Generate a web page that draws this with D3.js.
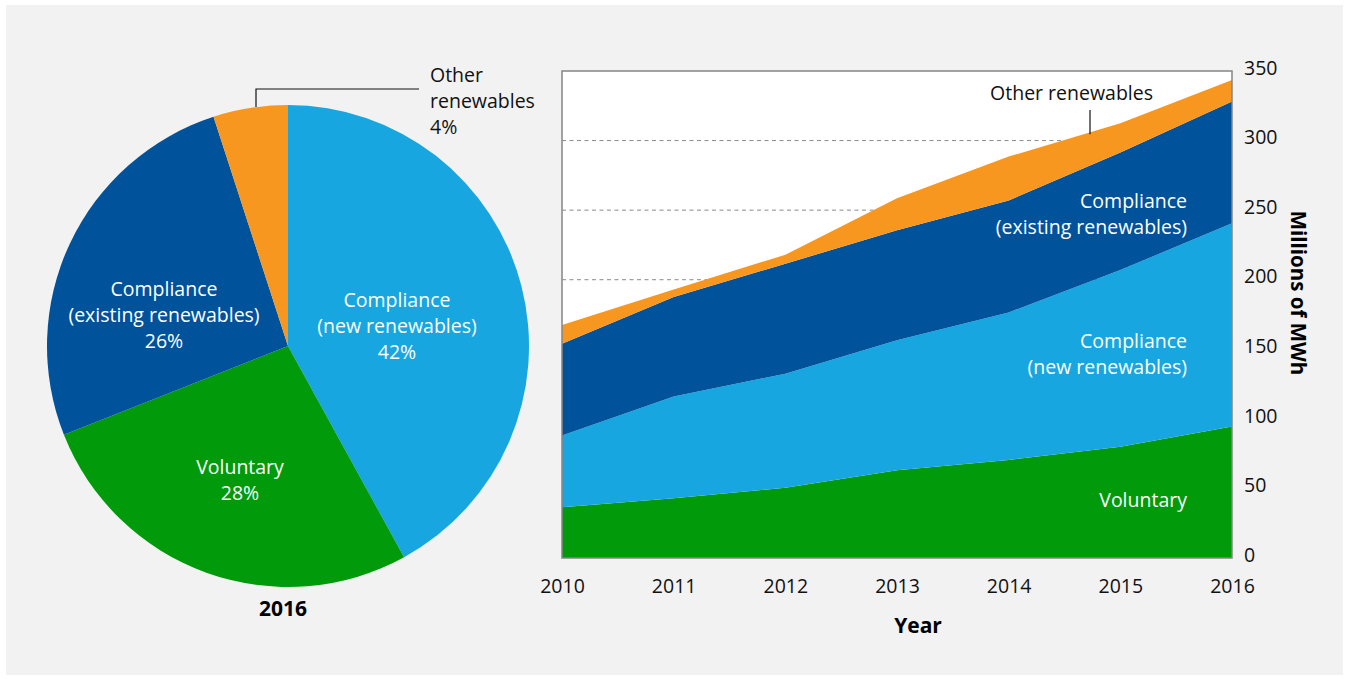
<!DOCTYPE html>
<html>
<head>
<meta charset="utf-8">
<script src="https://cdn.jsdelivr.net/npm/d3@7"></script>
<style>
  body { margin: 0; background: #fff; }
  svg { display: block; font-family: "Open Sans", "Noto Sans", sans-serif; }
</style>
</head>
<body>
<svg id="chart" width="1349" height="679"></svg>
<script>
// data
var years = [2010, 2011, 2012, 2013, 2014, 2015, 2016];
var voluntary = [36.5, 43, 50.5, 63, 70.5, 80, 94.5];
var newRenew = [51.5, 73, 82, 93.5, 106, 127, 146];
var existingRenew = [66, 71.5, 79, 79, 80.5, 84.5, 87.5];
var otherRenew = [13.5, 5.5, 6.5, 23, 31.5, 21, 15.5];
var yTicks = [0, 50, 100, 150, 200, 250, 300, 350];
var gridTicks = [200, 250, 300];

// 2016 shares: slice sizes as drawn, and the printed percentages
var pieNames = ["new", "voluntary", "existing", "other"];
var pieValues = [42, 27, 26, 5];
var pieLabelPct = ["42%", "28%", "26%", "4%"];

var colors = {
  voluntary: "#009a0a",
  "new": "#17a6df",
  existing: "#00529b",
  other: "#f7971f"
};

var svg = d3.select("#chart");

svg.append("rect")
  .attr("x", 6).attr("y", 5)
  .attr("width", 1337).attr("height", 670)
  .attr("fill", "#f2f2f2");

// ---- pie ----
var cx = 288, cy = 346, R = 241;
var pieG = svg.append("g").attr("transform", "translate(" + cx + "," + cy + ")");

var pie = d3.pie().sort(null).value(function(d){ return d.v; });
var arc = d3.arc().innerRadius(0).outerRadius(R);
var pieData = pie(pieNames.map(function(n, i){
  return {name: n, v: pieValues[i], pct: pieLabelPct[i]};
}));

pieG.selectAll("path.slice")
  .data(pieData)
  .enter().append("path")
  .attr("class", "slice")
  .attr("d", arc)
  .attr("fill", function(d){ return colors[d.data.name]; });

// label placement (offsets from centre)
var pieLabels = {
  "new": {dx: 109, dy: -20, lines: ["Compliance", "(new renewables)"]},
  voluntary: {dx: -48, dy: 134, lines: ["Voluntary"]},
  existing: {dx: -124, dy: -31, lines: ["Compliance", "(existing renewables)"]}
};

pieData.forEach(function(d){
  var lab = pieLabels[d.data.name];
  if(!lab) return;
  var lines = lab.lines.concat([d.data.pct]);
  var t = pieG.append("text")
    .attr("text-anchor", "middle")
    .attr("fill", "#fff")
    .attr("font-size", 19.5);
  var top = lab.dy - (lines.length - 1) * 26 / 2;
  lines.forEach(function(l, i){
    t.append("tspan").attr("x", lab.dx).attr("y", top + i * 26 + 7).text(l);
  });
});

// other renewables callout
var otherSlice = pieData[3];
svg.append("path")
  .attr("d", "M256," + (cy - R + 2) + "V89H419")
  .attr("fill", "none").attr("stroke", "#111").attr("stroke-width", 1.2);
var ot = svg.append("text").attr("font-size", 19.5).attr("fill", "#111");
["Other", "renewables", otherSlice.data.pct].forEach(function(l, i){
  ot.append("tspan").attr("x", 430).attr("y", 82 + i * 26).text(l);
});

svg.append("text")
  .attr("x", 283).attr("y", 616)
  .attr("text-anchor", "middle")
  .attr("font-size", 21).attr("font-weight", "bold")
  .text("2016");

// ---- stacked area ----
var x0 = 562, x1 = 1232, yTop = 71, yBot = 558;
var x = d3.scaleLinear().domain([2010, 2016]).range([x0, x1]);
var y = d3.scaleLinear().domain([0, 350]).range([yBot, yTop]);

svg.append("rect")
  .attr("x", x0).attr("y", yTop)
  .attr("width", x1 - x0).attr("height", yBot - yTop)
  .attr("fill", "#fff");

svg.selectAll("line.grid")
  .data(gridTicks)
  .enter().append("line")
  .attr("class", "grid")
  .attr("x1", x0).attr("x2", x1)
  .attr("y1", function(d){ return y(d); })
  .attr("y2", function(d){ return y(d); })
  .attr("stroke", "#8a8a8a")
  .attr("stroke-dasharray", "4,3.5");

var rows = years.map(function(yr, i){
  return {year: yr, voluntary: voluntary[i], "new": newRenew[i],
          existing: existingRenew[i], other: otherRenew[i]};
});
var keys = ["voluntary", "new", "existing", "other"];
var stacked = d3.stack().keys(keys)(rows);

var area = d3.area()
  .x(function(d){ return x(d.data.year); })
  .y0(function(d){ return y(d[0]); })
  .y1(function(d){ return y(d[1]); });

svg.selectAll("path.layer")
  .data(stacked)
  .enter().append("path")
  .attr("class", "layer")
  .attr("d", area)
  .attr("fill", function(d){ return colors[d.key]; });

svg.append("rect")
  .attr("x", x0).attr("y", yTop)
  .attr("width", x1 - x0).attr("height", yBot - yTop)
  .attr("fill", "none").attr("stroke", "#858585").attr("stroke-width", 1.5);

// axes
var yAxis = d3.axisRight(y).tickValues(yTicks).tickSize(0).tickPadding(12);
var ya = svg.append("g").attr("transform", "translate(" + x1 + ",-3)").call(yAxis);
ya.select(".domain").remove();
ya.selectAll("text").attr("font-size", 19.5).attr("fill", "#111")
  .attr("font-family", "'Open Sans', sans-serif");

var xAxis = d3.axisBottom(x).tickValues(years).tickFormat(d3.format("d")).tickSize(0).tickPadding(21);
var xa = svg.append("g").attr("transform", "translate(0," + yBot + ")").call(xAxis);
xa.select(".domain").remove();
xa.selectAll("text").attr("font-size", 19.5).attr("fill", "#111")
  .attr("font-family", "'Open Sans', sans-serif");

svg.append("text")
  .attr("x", 918).attr("y", 633)
  .attr("text-anchor", "middle")
  .attr("font-size", 21).attr("font-weight", "bold")
  .text("Year");

svg.append("text")
  .attr("transform", "translate(1291,293) rotate(90)")
  .attr("text-anchor", "middle")
  .attr("font-size", 20.5).attr("font-weight", "bold")
  .text("Millions of MWh");

// in-area labels
var areaLabels = [
  {lines: ["Compliance", "(existing renewables)"], y: 201},
  {lines: ["Compliance", "(new renewables)"], y: 341},
  {lines: ["Voluntary"], y: 500}
];
areaLabels.forEach(function(lab){
  var t = svg.append("text").attr("text-anchor", "end")
    .attr("font-size", 19.5).attr("fill", "#fff");
  lab.lines.forEach(function(l, i){
    t.append("tspan").attr("x", 1187).attr("y", lab.y + i * 26 + 7).text(l);
  });
});

svg.append("text")
  .attr("x", 1153).attr("y", 100)
  .attr("text-anchor", "end")
  .attr("font-size", 19.5).attr("fill", "#111")
  .text("Other renewables");

// leader line down to the orange band
var lx = 1090;
var f = (lx - x(2014)) / (x(2015) - x(2014));
var topVal = d3.sum(keys, function(k){ return rows[4][k]; }) * (1 - f) +
             d3.sum(keys, function(k){ return rows[5][k]; }) * f;
svg.append("line")
  .attr("x1", lx).attr("x2", lx)
  .attr("y1", 110).attr("y2", y(topVal) + 2)
  .attr("stroke", "#111").attr("stroke-width", 1.2);
</script>
</body>
</html>
